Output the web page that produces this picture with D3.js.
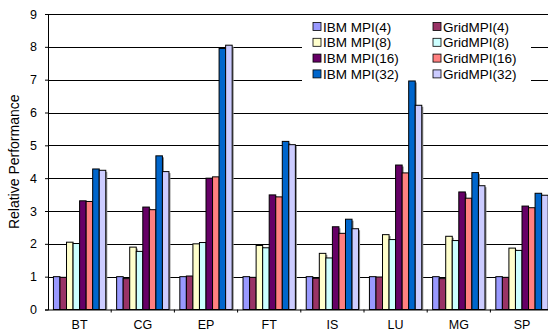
<!DOCTYPE html>
<html>
<head>
<meta charset="utf-8">
<script src="https://cdn.jsdelivr.net/npm/d3@7"></script>
<style>
body { margin: 0; background: #fff; }
text { font-family: "Liberation Sans", Arial, sans-serif; }
</style>
</head>
<body>
<script>
// benchmark categories and series
var benchmarks = ["BT", "CG", "EP", "FT", "IS", "LU", "MG", "SP"];
var seriesNames = ["IBM MPI(4)", "GridMPI(4)", "IBM MPI(8)", "GridMPI(8)",
                   "IBM MPI(16)", "GridMPI(16)", "IBM MPI(32)", "GridMPI(32)"];
var seriesColors = ["#9999ff", "#993366", "#ffffcc", "#ccffff",
                    "#660066", "#ff8080", "#0066cc", "#ccccff"];

var ibm4   = [1.00, 1.00, 1.00, 1.00, 1.00, 1.00, 1.00, 1.00];
var grid4  = [0.98, 0.94, 1.02, 0.98, 0.95, 0.99, 0.94, 0.98];
var ibm8   = [2.05, 1.90, 2.00, 1.95, 1.71, 2.28, 2.23, 1.87];
var grid8  = [2.01, 1.77, 2.04, 1.88, 1.57, 2.13, 2.10, 1.80];
var ibm16  = [3.31, 3.12, 4.00, 3.49, 2.52, 4.40, 3.58, 3.15];
var grid16 = [3.29, 3.04, 4.04, 3.43, 2.32, 4.16, 3.39, 3.10];
var ibm32  = [4.28, 4.68, 7.95, 5.12, 2.75, 6.96, 4.17, 3.54];
var grid32 = [4.24, 4.20, 8.05, 5.02, 2.46, 6.22, 3.77, 3.48];
var yTicks = [0, 1, 2, 3, 4, 5, 6, 7, 8, 9];

var seriesValues = [ibm4, grid4, ibm8, grid8, ibm16, grid16, ibm32, grid32];

var W = 548, H = 332;
var plotL = 48, plotR = 553.6, plotT = 14, plotB = 309.5;

var svg = d3.select("body").append("svg")
    .attr("width", W).attr("height", H);

var y = d3.scaleLinear().domain([0, 9]).range([plotB, plotT]);
var x0 = d3.scaleBand().domain(benchmarks).range([plotL, plotR]).padding(0);
var x1 = d3.scaleBand().domain(seriesNames).range([0, x0.bandwidth()])
    .paddingInner(0).paddingOuter(0.83);

// gridlines
svg.append("g").selectAll("line").data(yTicks.filter(function(d) { return d > 0; }))
    .enter().append("line")
    .attr("x1", plotL).attr("x2", W)
    .attr("y1", function(d) { return Math.round(y(d)) + 0.5; })
    .attr("y2", function(d) { return Math.round(y(d)) + 0.5; })
    .attr("stroke", "#000").attr("stroke-width", 1);

// legend background (covers gridlines)
svg.append("rect").attr("x", 302).attr("y", 16).attr("width", 229).attr("height", 68)
    .attr("fill", "#fff");

// bars
var rows = [];
benchmarks.forEach(function(b, i) {
    seriesNames.forEach(function(s, j) {
        rows.push({ bench: b, series: s, value: seriesValues[j][i], color: seriesColors[j] });
    });
});

var bars = svg.append("g").selectAll("g").data(rows).enter().append("g");
bars.append("rect")
    .attr("x", function(d) { return x0(d.bench) + x1(d.series) + 1.5; })
    .attr("y", function(d) { return y(d.value) + 1.5; })
    .attr("width", x1.bandwidth())
    .attr("height", function(d) { return plotB - y(d.value) - 1.5; })
    .attr("fill", "#888");
bars.append("rect")
    .attr("x", function(d) { return x0(d.bench) + x1(d.series); })
    .attr("y", function(d) { return y(d.value); })
    .attr("width", x1.bandwidth())
    .attr("height", function(d) { return plotB - y(d.value); })
    .attr("fill", function(d) { return d.color; })
    .attr("stroke", "#000").attr("stroke-width", 1);

// y axis
var yAxis = svg.append("g").attr("transform", "translate(" + plotL + ",0)")
    .call(d3.axisLeft(y).tickValues(yTicks).tickSize(3).tickPadding(8));
yAxis.select(".domain").attr("stroke", "#000");
yAxis.selectAll("text").attr("font-size", 12.5).attr("fill", "#000")
    .style("font-family", "Liberation Sans, Arial, sans-serif");

// x axis
var xAxis = svg.append("g").attr("transform", "translate(0," + plotB + ")")
    .call(d3.axisBottom(x0).tickSize(0).tickPadding(11));
xAxis.select(".domain").attr("stroke", "#000").attr("d", "M" + plotL + ",0.5H" + W);
xAxis.selectAll("text").attr("font-size", 12.5).attr("fill", "#000")
    .style("font-family", "Liberation Sans, Arial, sans-serif");
svg.append("g").selectAll("line").data(benchmarks.slice(1)).enter().append("line")
    .attr("x1", function(d) { return x0(d); }).attr("x2", function(d) { return x0(d); })
    .attr("y1", plotB).attr("y2", plotB + 3)
    .attr("stroke", "#000");

// y title
svg.append("text")
    .attr("transform", "translate(19," + ((plotT + plotB) / 2) + ") rotate(-90)")
    .attr("text-anchor", "middle")
    .attr("font-size", 14)
    .text("Relative Performance");

// legend
var legend = svg.append("g").selectAll("g").data(seriesNames).enter().append("g")
    .attr("transform", function(d, i) {
        var col = i % 2, row = Math.floor(i / 2);
        return "translate(" + (313 + col * 120) + "," + (22.5 + row * 15.8) + ")";
    });
legend.append("rect").attr("width", 8).attr("height", 8)
    .attr("fill", function(d, i) { return seriesColors[i]; })
    .attr("stroke", "#000").attr("stroke-width", 0.8);
legend.append("text").attr("x", 10).attr("y", 9)
    .attr("font-size", 13.5)
    .text(function(d) { return d; });
</script>
</body>
</html>
